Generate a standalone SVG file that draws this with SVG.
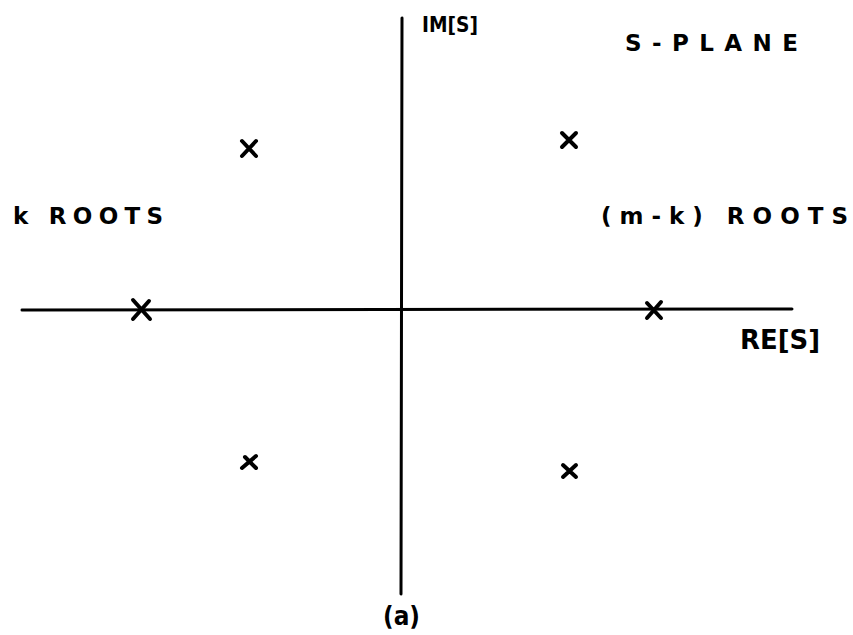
<svg xmlns="http://www.w3.org/2000/svg" width="853" height="635" viewBox="0 0 853 635">
<style>
.ax{stroke:#000;stroke-width:3;fill:none;stroke-linecap:round}
.x{stroke:#000;stroke-width:4;fill:none;stroke-linecap:round}
text{font-family:"DejaVu Sans","Liberation Sans",sans-serif;font-weight:bold;fill:#000}
</style>
<rect width="853" height="635" fill="#fff"/>
<g id="axes">
<line class="ax" x1="402" y1="18" x2="401" y2="594"/>
<line class="ax" x1="22" y1="310" x2="792" y2="309"/>
</g>
<g id="roots">
<path class="x" d="M133 300L150 319M133 319L149 301"/>
<path class="x" d="M242 141L256 156M242 156L256 141"/>
<path class="x" d="M562 133L576 147M562 147L576 133"/>
<path class="x" d="M647 303L661 318M647 318L661 302"/>
<path class="x" d="M242 468L256 456M245 457L256 468"/>
<path class="x" d="M563 465L576 477M563 477L576 465"/>
</g>
<g id="labels">
<text x="422" y="32" font-size="22" textLength="56" lengthAdjust="spacingAndGlyphs">IM[S]</text>
<text x="625" y="51" font-size="23" textLength="173" lengthAdjust="spacing">S-PLANE</text>
<text x="13" y="224" font-size="23" textLength="150" lengthAdjust="spacing">k ROOTS</text>
<text x="601" y="224" font-size="23" textLength="247" lengthAdjust="spacing">(m-k) ROOTS</text>
<text x="740" y="349" font-size="27" textLength="80" lengthAdjust="spacingAndGlyphs">RE[S]</text>
<text x="383" y="625" font-size="26" textLength="37" lengthAdjust="spacingAndGlyphs">(a)</text>
</g>
</svg>
